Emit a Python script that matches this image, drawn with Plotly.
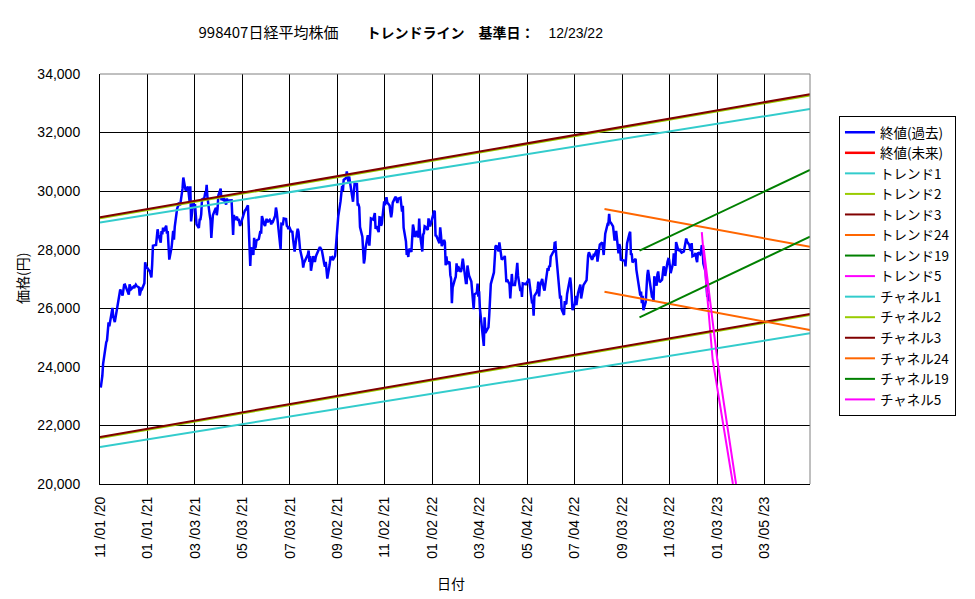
import plotly.graph_objects as go

# ---- 終値(過去): Nikkei 225 closes ----
close_dates = [
"2020-11-02","2020-11-04","2020-11-05","2020-11-06","2020-11-09","2020-11-10","2020-11-11","2020-11-12","2020-11-13",
"2020-11-16","2020-11-17","2020-11-18","2020-11-19","2020-11-20","2020-11-24","2020-11-25","2020-11-26","2020-11-27",
"2020-11-30","2020-12-01","2020-12-02","2020-12-03","2020-12-04","2020-12-07","2020-12-08","2020-12-09","2020-12-10",
"2020-12-11","2020-12-14","2020-12-15","2020-12-16","2020-12-17","2020-12-18","2020-12-21","2020-12-22","2020-12-23",
"2020-12-24","2020-12-25","2020-12-28","2020-12-29","2020-12-30",
"2021-01-04","2021-01-05","2021-01-06","2021-01-07","2021-01-08","2021-01-12","2021-01-13","2021-01-14","2021-01-15",
"2021-01-18","2021-01-19","2021-01-20","2021-01-21","2021-01-22","2021-01-25","2021-01-26","2021-01-27","2021-01-28",
"2021-01-29","2021-02-01","2021-02-02","2021-02-03","2021-02-04","2021-02-05","2021-02-08","2021-02-09","2021-02-10",
"2021-02-12","2021-02-15","2021-02-16","2021-02-17","2021-02-18","2021-02-19","2021-02-22","2021-02-24","2021-02-25",
"2021-02-26","2021-03-01","2021-03-02","2021-03-03","2021-03-04","2021-03-05","2021-03-08","2021-03-09","2021-03-10",
"2021-03-11","2021-03-12","2021-03-15","2021-03-16","2021-03-17","2021-03-18","2021-03-19","2021-03-22","2021-03-23",
"2021-03-24","2021-03-25","2021-03-26","2021-03-29","2021-03-30","2021-03-31","2021-04-01","2021-04-02","2021-04-05",
"2021-04-06","2021-04-07","2021-04-08","2021-04-09","2021-04-12","2021-04-13","2021-04-14","2021-04-15","2021-04-16",
"2021-04-19","2021-04-20","2021-04-21","2021-04-22","2021-04-23","2021-04-26","2021-04-27","2021-04-28","2021-04-30",
"2021-05-06","2021-05-07","2021-05-10","2021-05-11","2021-05-12","2021-05-13","2021-05-14","2021-05-17","2021-05-18",
"2021-05-19","2021-05-20","2021-05-21","2021-05-24","2021-05-25","2021-05-26","2021-05-27","2021-05-28","2021-05-31",
"2021-06-01","2021-06-02","2021-06-03","2021-06-04","2021-06-07","2021-06-08","2021-06-09","2021-06-10","2021-06-11",
"2021-06-14","2021-06-15","2021-06-16","2021-06-17","2021-06-18","2021-06-21","2021-06-22","2021-06-23","2021-06-24",
"2021-06-25","2021-06-28","2021-06-29","2021-06-30","2021-07-01","2021-07-02","2021-07-05","2021-07-06","2021-07-07",
"2021-07-08","2021-07-09","2021-07-12","2021-07-13","2021-07-14","2021-07-15","2021-07-16","2021-07-19","2021-07-20",
"2021-07-21","2021-07-26","2021-07-27","2021-07-28","2021-07-29","2021-07-30","2021-08-02","2021-08-03","2021-08-04",
"2021-08-05","2021-08-06","2021-08-10","2021-08-11","2021-08-12","2021-08-13","2021-08-16","2021-08-17","2021-08-18",
"2021-08-19","2021-08-20","2021-08-23","2021-08-24","2021-08-25","2021-08-26","2021-08-27","2021-08-30","2021-08-31",
"2021-09-01","2021-09-02","2021-09-03","2021-09-06","2021-09-07","2021-09-08","2021-09-09","2021-09-10","2021-09-13",
"2021-09-14","2021-09-15","2021-09-16","2021-09-17","2021-09-21","2021-09-22","2021-09-24","2021-09-27","2021-09-28",
"2021-09-29","2021-09-30","2021-10-01","2021-10-04","2021-10-05","2021-10-06","2021-10-07","2021-10-08","2021-10-11",
"2021-10-12","2021-10-13","2021-10-14","2021-10-15","2021-10-18","2021-10-19","2021-10-20","2021-10-21","2021-10-22",
"2021-10-25","2021-10-26","2021-10-27","2021-10-28","2021-10-29","2021-11-01","2021-11-02","2021-11-04","2021-11-05",
"2021-11-08","2021-11-09","2021-11-10","2021-11-11","2021-11-12","2021-11-15","2021-11-16","2021-11-17","2021-11-18",
"2021-11-19","2021-11-22","2021-11-24","2021-11-25","2021-11-26","2021-11-29","2021-11-30","2021-12-01","2021-12-02",
"2021-12-03","2021-12-06","2021-12-07","2021-12-08","2021-12-09","2021-12-10","2021-12-13","2021-12-14","2021-12-15",
"2021-12-16","2021-12-17","2021-12-20","2021-12-21","2021-12-22","2021-12-23","2021-12-24","2021-12-27","2021-12-28",
"2021-12-29","2021-12-30",
"2022-01-04","2022-01-05","2022-01-06","2022-01-07","2022-01-11","2022-01-12","2022-01-13","2022-01-14","2022-01-17",
"2022-01-18","2022-01-19","2022-01-20","2022-01-21","2022-01-24","2022-01-25","2022-01-26","2022-01-27","2022-01-28",
"2022-01-31","2022-02-01","2022-02-02","2022-02-03","2022-02-04","2022-02-07","2022-02-08","2022-02-09","2022-02-10",
"2022-02-14","2022-02-15","2022-02-16","2022-02-17","2022-02-18","2022-02-21","2022-02-22","2022-02-24","2022-02-25",
"2022-02-28","2022-03-01","2022-03-02","2022-03-03","2022-03-04","2022-03-07","2022-03-08","2022-03-09","2022-03-10",
"2022-03-11","2022-03-14","2022-03-15","2022-03-16","2022-03-17","2022-03-18","2022-03-22","2022-03-23","2022-03-24",
"2022-03-25","2022-03-28","2022-03-29","2022-03-30","2022-03-31","2022-04-01","2022-04-04","2022-04-05","2022-04-06",
"2022-04-07","2022-04-08","2022-04-11","2022-04-12","2022-04-13","2022-04-14","2022-04-15","2022-04-18","2022-04-19",
"2022-04-20","2022-04-21","2022-04-22","2022-04-25","2022-04-26","2022-04-27","2022-04-28","2022-05-02","2022-05-06",
"2022-05-09","2022-05-10","2022-05-11","2022-05-12","2022-05-13","2022-05-16","2022-05-17","2022-05-18","2022-05-19",
"2022-05-20","2022-05-23","2022-05-24","2022-05-25","2022-05-26","2022-05-27","2022-05-30","2022-05-31","2022-06-01",
"2022-06-02","2022-06-03","2022-06-06","2022-06-07","2022-06-08","2022-06-09","2022-06-10","2022-06-13","2022-06-14",
"2022-06-15","2022-06-16","2022-06-17","2022-06-20","2022-06-21","2022-06-22","2022-06-23","2022-06-24","2022-06-27",
"2022-06-28","2022-06-29","2022-06-30","2022-07-01","2022-07-04","2022-07-05","2022-07-06","2022-07-07","2022-07-08",
"2022-07-11","2022-07-12","2022-07-13","2022-07-14","2022-07-15","2022-07-19","2022-07-20","2022-07-21","2022-07-22",
"2022-07-25","2022-07-26","2022-07-27","2022-07-28","2022-07-29","2022-08-01","2022-08-02","2022-08-03","2022-08-04",
"2022-08-05","2022-08-08","2022-08-09","2022-08-10","2022-08-12","2022-08-15","2022-08-16","2022-08-17","2022-08-18",
"2022-08-19","2022-08-22","2022-08-23","2022-08-24","2022-08-25","2022-08-26","2022-08-29","2022-08-30","2022-08-31",
"2022-09-01","2022-09-02","2022-09-05","2022-09-06","2022-09-07","2022-09-08","2022-09-09","2022-09-12","2022-09-13",
"2022-09-14","2022-09-15","2022-09-16","2022-09-20","2022-09-21","2022-09-22","2022-09-26","2022-09-27","2022-09-28",
"2022-09-29","2022-09-30","2022-10-03","2022-10-04","2022-10-05","2022-10-06","2022-10-07","2022-10-11","2022-10-12",
"2022-10-13","2022-10-14","2022-10-17","2022-10-18","2022-10-19","2022-10-20","2022-10-21","2022-10-24","2022-10-25",
"2022-10-26","2022-10-27","2022-10-28","2022-10-31","2022-11-01","2022-11-02","2022-11-04","2022-11-07","2022-11-08",
"2022-11-09","2022-11-10","2022-11-11","2022-11-14","2022-11-15","2022-11-16","2022-11-17","2022-11-18","2022-11-21",
"2022-11-22","2022-11-24","2022-11-25","2022-11-28","2022-11-29","2022-11-30","2022-12-01","2022-12-02","2022-12-05",
"2022-12-06","2022-12-07","2022-12-08","2022-12-09","2022-12-12","2022-12-13","2022-12-14","2022-12-15","2022-12-16",
"2022-12-19","2022-12-20","2022-12-21","2022-12-22","2022-12-23",
]
close_values = [
23295,23695,24105,24325,24839,24905,25349,25520,25385,
25906,26014,25728,25634,25527,26165,26297,26537,26644,
26433,26787,26800,26809,26751,26547,26467,26817,26756,
26652,26732,26687,26757,26806,26763,26714,26436,26524,
26668,26656,26854,27568,27444,
27258,27158,27056,27490,28139,28164,28456,28698,28519,
28242,28633,28523,28756,28631,28822,28546,28635,28197,
27663,28091,28362,28646,28341,28779,29388,29505,29562,
29520,30084,30467,30292,30236,30017,30156,29671,30168,
28966,29663,29408,29559,28930,28864,28743,29027,29036,
29211,29717,29766,29921,29914,30216,29792,29174,28995,
28405,28729,29176,29384,29432,29178,29388,29854,30089,
29696,29730,29708,29768,29538,29751,29620,29642,29683,
29685,29100,28508,29188,29020,29126,28991,29053,28812,
29331,29357,29518,28608,28147,27448,28084,27824,28406,
28044,28098,28317,28364,28553,28642,28549,29149,28860,
28814,28946,29058,28941,29019,28963,28860,28958,28948,
29161,29441,29291,29018,28964,28011,28884,28874,28875,
29066,29048,28812,28791,28707,28783,28598,28643,28366,
28118,27940,28569,28718,28608,28279,28003,27652,27388,
27548,27833,27970,27581,27782,27283,27781,27641,27584,
27728,27820,28070,28070,28015,27977,27523,27424,27585,
27281,27013,27494,27732,27724,27742,27641,27789,28089,
28451,28543,29128,29659,29916,30181,30008,30381,30447,
30670,30511,30323,30500,29839,29639,30248,30240,29544,
29544,29452,28771,28444,27822,27528,27678,28048,28498,
28230,28140,28550,29068,29025,29215,29255,28708,28804,
28600,29106,29098,28820,28892,29647,29520,29794,29611,
29507,29285,29106,29277,29609,29776,29808,29688,29598,
29745,29774,29302,29499,28751,28283,27821,27935,27753,
28029,27927,28455,28860,28725,28437,28640,28432,28459,
29066,28545,27937,28517,28562,28798,28782,28676,29069,
28906,28791,
29301,29332,28487,28478,28222,28765,28489,28124,28333,
28257,27467,27772,27522,27588,27131,27011,26170,26717,
27001,27078,27533,27241,27439,27248,27284,27579,27696,
26865,26865,27460,27232,27122,26910,26449,25970,26476,
26526,26844,26393,26577,25985,25221,24790,24717,25690,
25163,25307,25346,25762,26652,26827,27224,28040,28110,
28149,27943,28252,28027,27821,27665,27736,27787,27350,
26888,26985,26821,26334,26843,27172,26799,26799,26985,
27217,27553,27105,26590,26700,26386,26847,26818,27003,
26319,26167,26213,25748,26427,26547,26659,26911,26402,
26739,27001,26748,26677,26604,26781,27369,27279,27457,
27413,27761,27915,27943,28234,28246,27824,26987,26629,
26326,26431,25963,25771,26246,26149,26171,26491,26871,
27049,26804,26393,25935,26153,26423,26107,26490,26517,
26812,26336,26478,26643,26788,26961,27680,27803,27915,
27699,27655,27715,27815,27801,27993,27594,27741,27932,
28175,28249,27999,27819,28546,28871,28868,29222,28942,
28930,28794,28452,28313,28479,28641,27878,28195,28091,
27661,27650,27619,27626,27430,28065,28214,28542,28614,
27818,27875,27567,27688,27313,27153,26431,26571,26173,
26422,25937,26215,26992,27120,27311,27116,26401,26397,
26237,27090,26775,27156,27257,27006,26890,26974,27250,
27431,27345,27105,27587,27678,27663,27199,27527,27872,
27716,27446,28263,27963,27990,28028,27930,27899,27944,
28115,28383,28283,28162,28027,27968,28226,27777,27820,
27885,27686,27574,27901,27842,27954,28156,28051,27527,
27237,26568,26387,26507,26235,
]

# ---- 終値(未来): no values shown ----
future_dates = [None]
future_values = [None]

# ---- trend / channel lines (dates) ----
trend1_x = ["2020-11-01", "2023-05-02"];  trend1_y = [28930, 32805]
trend2_x = ["2020-11-01", "2023-05-02"];  trend2_y = [29070, 33270]
trend3_x = ["2020-11-01", "2023-05-02"];  trend3_y = [29107, 33307]
trend24_x = ["2022-08-11", "2023-05-02"]; trend24_y = [29390, 28103]
trend19_x = ["2022-09-25", "2023-05-02"]; trend19_y = [27967, 30722]
trend5_x = ["2022-12-14", "2022-12-28", "2023-01-23"]; trend5_y = [28600, 24234, 20000]
chan1_x = ["2020-11-01", "2023-05-02"];   chan1_y = [21263, 25146]
chan2_x = ["2020-11-01", "2023-05-02"];   chan2_y = [21570, 25770]
chan3_x = ["2020-11-01", "2023-05-02"];   chan3_y = [21605, 25805]
chan24_x = ["2022-08-11", "2023-05-02"];  chan24_y = [26566, 25259]
chan19_x = ["2022-09-25", "2023-05-02"];  chan19_y = [25692, 28445]
chan5_x = ["2022-12-16", "2023-01-03", "2023-01-27"]; chan5_y = [28150, 24234, 20000]

y_ticks = [20000, 22000, 24000, 26000, 28000, 30000, 32000, 34000]

C_CYAN = "#33CCCC"; C_YG = "#99CC00"; C_DR = "#800000"
C_OR = "#FF6600"; C_GR = "#008000"; C_MG = "#FF00FF"

JP = "Noto Sans CJK JP, Liberation Sans, sans-serif"
fig = go.Figure()
fig.add_trace(go.Scatter(x=close_dates, y=close_values, name="終値(過去)", mode="lines",
                         line=dict(color="#0000FF", width=2.5)))
fig.add_trace(go.Scatter(x=future_dates, y=future_values, name="終値(未来)", mode="lines",
                         line=dict(color="#FF0000", width=2.5)))
series = [
    ("トレンド1", trend1_x, trend1_y, C_CYAN),
    ("トレンド2", trend2_x, trend2_y, C_YG),
    ("トレンド3", trend3_x, trend3_y, C_DR),
    ("トレンド24", trend24_x, trend24_y, C_OR),
    ("トレンド19", trend19_x, trend19_y, C_GR),
    ("トレンド5", trend5_x, trend5_y, C_MG),
    ("チャネル1", chan1_x, chan1_y, C_CYAN),
    ("チャネル2", chan2_x, chan2_y, C_YG),
    ("チャネル3", chan3_x, chan3_y, C_DR),
    ("チャネル24", chan24_x, chan24_y, C_OR),
    ("チャネル19", chan19_x, chan19_y, C_GR),
    ("チャネル5", chan5_x, chan5_y, C_MG),
]
for name, xs, ys, col in series:
    fig.add_trace(go.Scatter(x=xs, y=ys, name=name, mode="lines",
                             line=dict(color=col, width=2), cliponaxis=True))

title_text = ("<span style='font-size:15px'>998407日経平均株価</span>　　"
              "<b>トレンドライン　基準日：</b>　"
              "<span style='font-size:14px;font-family:Liberation Sans'>12/23/22</span>")

fig.update_layout(
    width=975, height=599,
    margin=dict(l=100, r=165, t=74, b=115),
    paper_bgcolor="white", plot_bgcolor="white",
    font=dict(family=JP, color="black", size=13),
    showlegend=True,
    legend=dict(x=1.0408, y=0.8976, xanchor="left", yanchor="top",
                bordercolor="black", borderwidth=1, bgcolor="white",
                font=dict(family=JP, size=13.5), tracegroupgap=0),
    title=dict(
        text=title_text,
        x=0.411, xref="container", xanchor="center",
        y=1 - 33 / 599, yref="container", yanchor="middle",
        font=dict(family=JP, size=14, color="black")),
    xaxis=dict(type="date", range=["2020-11-01", "2023-05-02"],
               tick0="2020-11-01", dtick=61 * 86400000, tickformat="%m /%d /%y",
               tickangle=-90, showgrid=True, gridcolor="black", gridwidth=1,
               showline=True, linecolor="black", linewidth=1, ticks="",
               ticklabelstandoff=6,
               tickfont=dict(family="Liberation Sans, sans-serif", size=14)),
    yaxis=dict(range=[20000, 34000], tickvals=y_ticks, tickformat=",",
               showgrid=True, gridcolor="black", gridwidth=1,
               showline=True, linecolor="black", linewidth=1, ticks="",
               ticklabelstandoff=16, zeroline=False,
               tickfont=dict(family="Liberation Sans, sans-serif", size=14)),
    shapes=[
        dict(type="line", xref="paper", yref="paper", x0=0, x1=1, y0=1, y1=1,
             line=dict(color="#808080", width=1), layer="above"),
        dict(type="line", xref="paper", yref="paper", x0=1, x1=1, y0=0, y1=1,
             line=dict(color="#808080", width=1), layer="above"),
    ],
    annotations=[
        dict(text="日付", xref="paper", yref="paper", x=(451 - 100) / 710,
             y=-(583 - 484) / 410, showarrow=False, xanchor="center", yanchor="middle",
             font=dict(family=JP, size=14)),
        dict(text="価格(円)", xref="paper", yref="paper", x=-(100 - 22) / 710,
             y=0.5, showarrow=False, textangle=-90, xanchor="center", yanchor="middle",
             font=dict(family=JP, size=14)),
    ],
)

fig.write_html("out.html")
